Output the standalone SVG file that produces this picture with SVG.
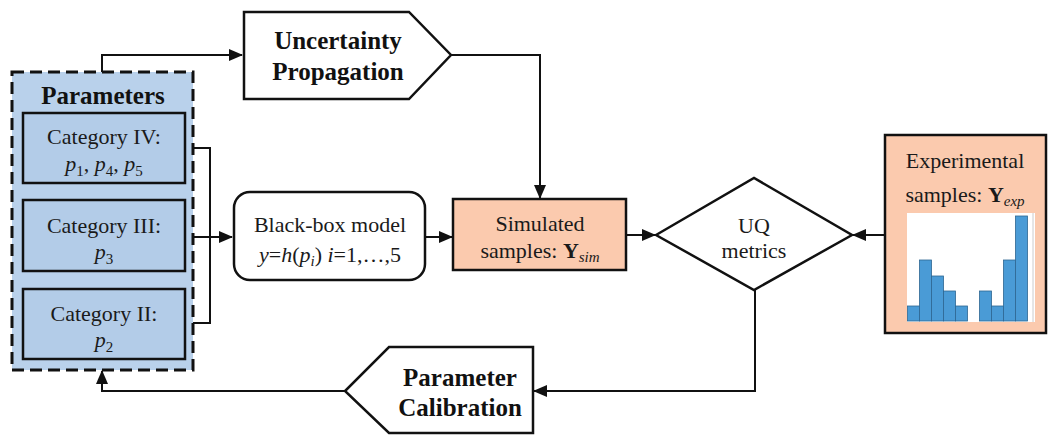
<svg xmlns="http://www.w3.org/2000/svg" width="1048" height="435" viewBox="0 0 1048 435" font-family="Liberation Serif, serif">
<style>
.t{font-size:22px;fill:#1a1a1a;text-anchor:middle}
.b{font-size:25px;font-weight:bold;fill:#111;text-anchor:middle}
.s{stroke:#111;stroke-width:2.5;fill:#fff}
.c{stroke:#111;stroke-width:2;fill:none}
.cat{fill:#b3cce8;stroke:#111;stroke-width:2.5}
.bar{fill:#4a9bd6;stroke:#2d6792;stroke-width:0.8}
</style>
<defs>
<marker id="ah" markerUnits="userSpaceOnUse" markerWidth="14" markerHeight="12" refX="13" refY="6" orient="auto">
<path d="M0,0 L14,6 L0,12 Z" fill="#111"/>
</marker>
</defs>
<rect width="1048" height="435" fill="#fff"/>

<g id="connectors">
<path class="c" d="M102,72 V55 H242" marker-end="url(#ah)"/>
<path class="c" d="M451,55 H540 V198" marker-end="url(#ah)"/>
<path class="c" d="M185,148 H210 V323 H185"/>
<path class="c" d="M185,237 H232" marker-end="url(#ah)"/>
<path class="c" d="M425,237 H452" marker-end="url(#ah)"/>
<path class="c" d="M626,235 H655" marker-end="url(#ah)"/>
<path class="c" d="M885,235 H853" marker-end="url(#ah)"/>
<path class="c" d="M755,290 V391 H534" marker-end="url(#ah)"/>
<path class="c" d="M345,391 H102 V371" marker-end="url(#ah)"/>
</g>

<g id="parameters">
<rect x="12" y="72" width="181" height="298" fill="#b9d1eb" stroke="#111" stroke-width="3" stroke-dasharray="12,6"/>
<text class="b" font-family="Liberation Serif, serif" x="103" y="104">Parameters</text>
</g>
<g id="category4">
<rect class="cat" x="23" y="113" width="162" height="70"/>
<text class="t" font-family="Liberation Serif, serif" x="104" y="144">Category IV:</text>
<text class="t" font-family="Liberation Serif, serif" x="104" y="171"><tspan font-style="italic">p</tspan><tspan font-size="15" dy="5">1</tspan><tspan dy="-5">, </tspan><tspan font-style="italic">p</tspan><tspan font-size="15" dy="5">4</tspan><tspan dy="-5">, </tspan><tspan font-style="italic">p</tspan><tspan font-size="15" dy="5">5</tspan></text>
</g>
<g id="category3">
<rect class="cat" x="23" y="200" width="162" height="71"/>
<text class="t" font-family="Liberation Serif, serif" x="104" y="233">Category III:</text>
<text class="t" font-family="Liberation Serif, serif" x="104" y="259"><tspan font-style="italic">p</tspan><tspan font-size="15" dy="5">3</tspan></text>
</g>
<g id="category2">
<rect class="cat" x="23" y="289" width="162" height="70"/>
<text class="t" font-family="Liberation Serif, serif" x="104" y="321">Category II:</text>
<text class="t" font-family="Liberation Serif, serif" x="104" y="347"><tspan font-style="italic">p</tspan><tspan font-size="15" dy="5">2</tspan></text>
</g>

<g id="uncertainty-propagation">
<path class="s" d="M244,12 H409 L451,55 L409,99 H244 Z"/>
<text class="b" font-family="Liberation Serif, serif" x="338" y="49">Uncertainty</text>
<text class="b" font-family="Liberation Serif, serif" x="338" y="80">Propagation</text>
</g>

<g id="black-box">
<rect class="s" x="234" y="192" width="191" height="88" rx="16"/>
<text class="t" font-family="Liberation Serif, serif" x="330" y="232">Black-box model</text>
<text class="t" font-family="Liberation Serif, serif" x="330" y="262"><tspan font-style="italic">y</tspan>=<tspan font-style="italic">h</tspan>(<tspan font-style="italic">p</tspan><tspan font-style="italic" font-size="15" dy="4">i</tspan><tspan dy="-4">) </tspan><tspan font-style="italic">i</tspan>=1,…,5</text>
</g>

<g id="simulated">
<rect x="453" y="199" width="173" height="71" fill="#fbcaae" stroke="#111" stroke-width="2.5"/>
<text class="t" font-family="Liberation Serif, serif" x="540" y="231">Simulated</text>
<text class="t" font-family="Liberation Serif, serif" x="540" y="258">samples: <tspan font-weight="bold">Y</tspan><tspan font-style="italic" font-size="15" dy="4">sim</tspan></text>
</g>

<g id="uq-metrics">
<path class="s" d="M656,235 L754,178 L852,235 L754,290 Z"/>
<text class="t" font-family="Liberation Serif, serif" x="754" y="233">UQ</text>
<text class="t" font-family="Liberation Serif, serif" x="754" y="258">metrics</text>
</g>

<g id="experimental">
<rect x="885" y="135" width="161" height="198" fill="#fbcaae" stroke="#111" stroke-width="2.5"/>
<text class="t" font-family="Liberation Serif, serif" x="965" y="168">Experimental</text>
<text class="t" font-family="Liberation Serif, serif" x="965" y="202">samples: <tspan font-weight="bold">Y</tspan><tspan font-style="italic" font-size="15" dy="4">exp</tspan></text>
<rect x="907" y="213" width="128" height="109" fill="#fff"/>
<line x1="1033" y1="213" x2="1033" y2="322" stroke="#ccc" stroke-width="1"/>
<rect class="bar" x="907.5" y="306" width="12" height="15"/>
<rect class="bar" x="919.5" y="260" width="12" height="61"/>
<rect class="bar" x="931.5" y="276" width="12" height="45"/>
<rect class="bar" x="943.5" y="291" width="12" height="30"/>
<rect class="bar" x="955.5" y="306" width="12" height="15"/>
<rect class="bar" x="979.5" y="291" width="12" height="30"/>
<rect class="bar" x="991.5" y="306" width="12" height="15"/>
<rect class="bar" x="1003.5" y="260" width="12" height="61"/>
<rect class="bar" x="1015.5" y="216" width="12" height="105"/>
</g>

<g id="parameter-calibration">
<path class="s" d="M389,347 H533 V433 H389 L345,391 Z"/>
<text class="b" font-family="Liberation Serif, serif" x="460" y="386">Parameter</text>
<text class="b" font-family="Liberation Serif, serif" x="460" y="416">Calibration</text>
</g>
</svg>
